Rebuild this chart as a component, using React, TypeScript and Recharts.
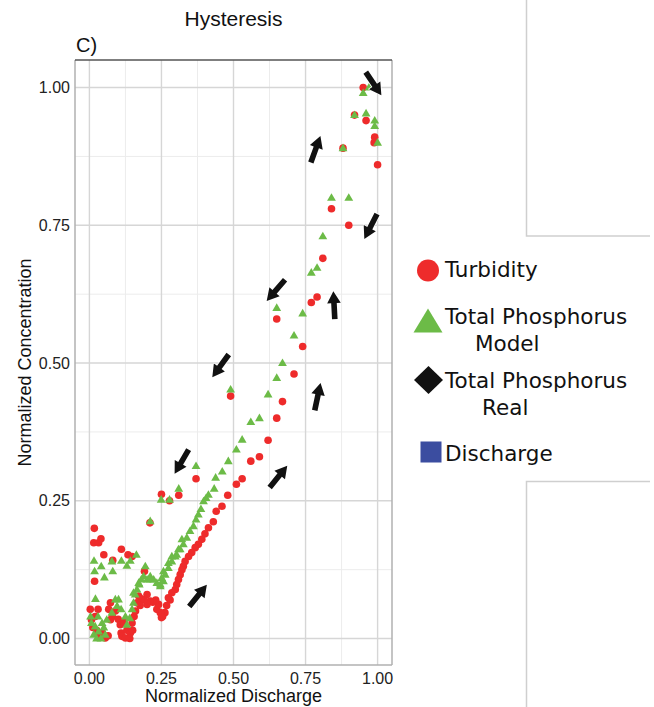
import React from 'react';
import { ScatterChart, Scatter, XAxis, YAxis, ReferenceLine, Label } from 'recharts';

// Normalized discharge (x) vs normalized concentration (y)
const turbidity: [number, number][] = [
  // rising / falling limbs, upper part
  [0.95, 1.0], [0.92, 0.95], [0.96, 0.94], [0.99, 0.91], [0.988, 0.9], [1.0, 0.86], [0.88, 0.89],
  [0.84, 0.78], [0.9, 0.75], [0.81, 0.69], [0.79, 0.62], [0.77, 0.61], [0.65, 0.58], [0.74, 0.53],
  [0.71, 0.48], [0.67, 0.43], [0.65, 0.4], [0.49, 0.44], [0.62, 0.36], [0.59, 0.33], [0.56, 0.322],
  [0.53, 0.29], [0.51, 0.28], [0.48, 0.26], [0.46, 0.24], [0.44, 0.231], [0.43, 0.212], [0.413, 0.201],
  [0.401, 0.19], [0.39, 0.18], [0.378, 0.171], [0.367, 0.165], [0.355, 0.156], [0.344, 0.149],
  [0.332, 0.14], [0.326, 0.131], [0.321, 0.125], [0.315, 0.116], [0.309, 0.107], [0.303, 0.098],
  [0.298, 0.089], [0.286, 0.083], [0.274, 0.074],
  [0.37, 0.29], [0.31, 0.26], [0.25, 0.262], [0.278, 0.25], [0.21, 0.21],
  // low band
  [0.268, 0.06], [0.262, 0.047], [0.254, 0.04], [0.246, 0.047], [0.25, 0.038], [0.234, 0.053],
  [0.24, 0.062], [0.23, 0.07], [0.22, 0.066], [0.211, 0.068], [0.2, 0.08], [0.2, 0.062], [0.19, 0.07],
  [0.18, 0.072], [0.176, 0.06], [0.171, 0.077], [0.165, 0.065], [0.28, 0.07],
  // base flow cluster
  [0.003, 0.053], [0.03, 0.053], [0.007, 0.034], [0.02, 0.04], [0.035, 0.004], [0.045, 0.01],
  [0.055, 0.001], [0.065, 0.005], [0.067, 0.053], [0.073, 0.034], [0.08, 0.04], [0.09, 0.05],
  [0.1, 0.035], [0.107, 0.025], [0.11, 0.01], [0.113, 0.004], [0.125, 0.001], [0.13, 0.015],
  [0.142, 0.01], [0.148, 0.028], [0.155, 0.04], [0.16, 0.05], [0.12, 0.03], [0.14, 0.0],
  [0.15, 0.015], [0.073, 0.065], [0.012, 0.02], [0.025, 0.015],
  // scattered low-discharge readings
  [0.017, 0.2], [0.015, 0.174], [0.032, 0.174], [0.04, 0.181], [0.05, 0.152], [0.081, 0.142],
  [0.111, 0.162], [0.134, 0.152], [0.148, 0.149], [0.018, 0.104], [0.191, 0.122],
];

const tpModel: [number, number][] = [
  [0.95, 0.99], [0.97, 1.0], [0.92, 0.95], [0.96, 0.953], [0.99, 0.94], [0.99, 0.93], [1.0, 0.9],
  [0.88, 0.89], [0.84, 0.8], [0.9, 0.8], [0.81, 0.73], [0.79, 0.673], [0.77, 0.664], [0.65, 0.6],
  [0.74, 0.59], [0.71, 0.55], [0.67, 0.5], [0.65, 0.473], [0.62, 0.443], [0.59, 0.4], [0.56, 0.393],
  [0.49, 0.452], [0.53, 0.361], [0.51, 0.343], [0.482, 0.322], [0.461, 0.303], [0.438, 0.292],
  [0.433, 0.272], [0.413, 0.261], [0.405, 0.255], [0.396, 0.249], [0.387, 0.235], [0.378, 0.225],
  [0.37, 0.216], [0.361, 0.204], [0.349, 0.195], [0.338, 0.183], [0.326, 0.171], [0.315, 0.162],
  [0.303, 0.152], [0.286, 0.149], [0.274, 0.137], [0.257, 0.122], [0.251, 0.11], [0.246, 0.095],
  [0.37, 0.313], [0.31, 0.272], [0.249, 0.252], [0.278, 0.252], [0.211, 0.213],
  // low band
  [0.321, 0.18], [0.309, 0.162], [0.298, 0.149], [0.286, 0.14], [0.274, 0.128], [0.263, 0.116],
  [0.257, 0.104], [0.246, 0.098], [0.234, 0.101], [0.223, 0.107], [0.211, 0.113], [0.211, 0.107],
  [0.2, 0.107], [0.194, 0.131], [0.188, 0.113], [0.18, 0.107], [0.173, 0.098], [0.171, 0.101],
  [0.165, 0.089], [0.159, 0.08], [0.153, 0.083], [0.153, 0.065], [0.148, 0.053], [0.14, 0.037],
  [0.13, 0.025], [0.125, 0.04], [0.11, 0.053], [0.101, 0.071], [0.096, 0.059], [0.09, 0.071],
  [0.078, 0.047], [0.06, 0.034], [0.044, 0.028],
  // base flow cluster
  [0.007, 0.028], [0.02, 0.022], [0.015, 0.007], [0.032, 0.013], [0.05, 0.02], [0.055, 0.007],
  [0.004, 0.04], [0.03, 0.04], [0.04, 0.0], [0.025, 0.0],
  // scattered low-discharge values
  [0.016, 0.141], [0.041, 0.131], [0.018, 0.122], [0.052, 0.111], [0.078, 0.14], [0.081, 0.122],
  [0.111, 0.141], [0.13, 0.132], [0.142, 0.141], [0.163, 0.152], [0.021, 0.072],
];

// Direction arrows along the loop: position and heading (degrees, screen orientation)
const arrows: [number, number, number][] = [
  [0.377, 0.078, -51],
  [0.656, 0.294, -51],
  [0.792, 0.439, -78],
  [0.849, 0.605, -93],
  [0.785, 0.888, -70],
  [0.986, 1.007, 56],
  [0.976, 0.748, 117],
  [0.647, 0.632, 131],
  [0.455, 0.495, 126],
  [0.32, 0.321, 120],
];

const majorTicks = [0, 0.25, 0.5, 0.75, 1];
const minorTicks = [0.125, 0.375, 0.625, 0.875];
const xDomain: [number, number] = [-0.05, 1.05];
const yDomain: [number, number] = [-0.048, 1.05];

const RED = '#EE2B2B';
const GREEN = '#6CBB47';
const BLUE = '#3B4DA0';
const AXIS_FONT = '"Liberation Sans", Arial, Helvetica, sans-serif';
const LEGEND_FONT = '"DejaVu Sans", "Noto Sans", sans-serif';

const toPoints = (arr: [number, number][]) => arr.map(([x, y]) => ({ x, y }));
const turbidityData = toPoints(turbidity);
const tpModelData = toPoints(tpModel);
const arrowData = arrows.map(([x, y, heading]) => ({ x, y, heading }));

const CircleMark = (p: any) => <circle cx={p.cx} cy={p.cy} r={3.8} fill={RED} />;

const TriangleMark = (p: any) => (
  <polygon
    points={`${p.cx},${p.cy - 4.6} ${p.cx - 4.4},${p.cy + 3} ${p.cx + 4.4},${p.cy + 3}`}
    fill={GREEN}
  />
);

const ArrowMark = (p: any) => {
  const { cx, cy } = p;
  const h = p.payload?.heading ?? 0;
  const pts = [
    [-14, -2.8], [2, -2.8], [2, -6.8], [14, 0], [2, 6.8], [2, 2.8], [-14, 2.8],
  ]
    .map(([a, b]) => `${cx + a},${cy + b}`)
    .join(' ');
  return (
    <polygon
      points={pts}
      fill="#111"
      stroke="#fff"
      strokeWidth={1.5}
      strokeLinejoin="round"
      paintOrder="stroke"
      transform={`rotate(${h} ${cx} ${cy})`}
    />
  );
};

export default function App() {
  return (
    <div style={{ position: 'fixed', left: 0, top: 0, width: 654, height: 707, background: '#fff' }}>
      <ScatterChart
        width={654}
        height={707}
        margin={{ top: 60, right: 262, bottom: 2, left: 20 }}
      >
        {minorTicks.map((v) => (
          <ReferenceLine key={`mx${v}`} x={v} stroke="#ececec" strokeWidth={1} />
        ))}
        {minorTicks.map((v) => (
          <ReferenceLine key={`my${v}`} y={v} stroke="#ececec" strokeWidth={1} />
        ))}
        {majorTicks.map((v) => (
          <ReferenceLine key={`Mx${v}`} x={v} stroke="#d6d6d6" strokeWidth={1.4} />
        ))}
        {majorTicks.map((v) => (
          <ReferenceLine key={`My${v}`} y={v} stroke="#d6d6d6" strokeWidth={1.4} />
        ))}
        <ReferenceLine x={xDomain[0]} stroke="#b0b0b0" strokeWidth={1.5} />
        <ReferenceLine x={xDomain[1]} stroke="#b0b0b0" strokeWidth={1.5} />
        <ReferenceLine y={yDomain[0]} stroke="#b0b0b0" strokeWidth={1.5} />
        <ReferenceLine y={yDomain[1]} stroke="#555" strokeWidth={1.5} />
        <XAxis
          type="number"
          dataKey="x"
          domain={xDomain}
          ticks={majorTicks}
          tickFormatter={(v: number) => v.toFixed(2)}
          allowDataOverflow
          height={40}
          axisLine={false}
          tickLine={false}
          tick={{ fill: '#222', fontSize: 16, fontFamily: AXIS_FONT }}
        >
          <Label
            content={(props: any) => {
              const vb = props.viewBox || {};
              return (
                <text
                  x={vb.x + vb.width / 2}
                  y={702}
                  textAnchor="middle"
                  fontSize={18}
                  fontFamily={AXIS_FONT}
                  fill="#111"
                >
                  Normalized Discharge
                </text>
              );
            }}
          />
        </XAxis>
        <YAxis
          type="number"
          dataKey="y"
          domain={yDomain}
          ticks={majorTicks}
          tickFormatter={(v: number) => v.toFixed(2)}
          allowDataOverflow
          width={55}
          axisLine={false}
          tickLine={false}
          tickSize={3}
          tickMargin={2}
          tick={{ fill: '#222', fontSize: 16, fontFamily: AXIS_FONT }}
        >
          <Label
            content={(props: any) => {
              const vb = props.viewBox || {};
              const cy = vb.y + vb.height / 2;
              return (
                <text
                  x={31}
                  y={cy}
                  textAnchor="middle"
                  fontSize={18}
                  fontFamily={AXIS_FONT}
                  fill="#111"
                  transform={`rotate(-90 31 ${cy})`}
                >
                  Normalized Concentration
                </text>
              );
            }}
          />
        </YAxis>
        <Scatter name="Turbidity" data={turbidityData} shape={CircleMark} isAnimationActive={false} />
        <Scatter name="Total Phosphorus Model" data={tpModelData} shape={TriangleMark} isAnimationActive={false} />
        <Scatter name="direction" data={arrowData} shape={ArrowMark} isAnimationActive={false} legendType="none" />
      </ScatterChart>

      <svg
        width={654}
        height={707}
        style={{ position: 'absolute', left: 0, top: 0, pointerEvents: 'none' }}
      >
        <text x={233.5} y={26} textAnchor="middle" fontSize={21} fontFamily={AXIS_FONT} fill="#111">
          Hysteresis
        </text>
        <text x={76} y={51.5} fontSize={20} fontFamily={AXIS_FONT} fill="#111">
          C)
        </text>

        <g fontFamily={LEGEND_FONT} fontSize={21.5} fill="#111">
          <circle cx={428} cy={270.5} r={11} fill={RED} />
          <text x={445} y={277}>Turbidity</text>
          <polygon points="428,308.5 413.5,332.5 442.5,332.5" fill={GREEN} />
          <text x={445} y={324}>Total Phosphorus</text>
          <text x={475} y={351}>Model</text>
          <polygon points="428.5,366 443,380 428.5,394 414,380" fill="#111" />
          <text x={445} y={388}>Total Phosphorus</text>
          <text x={482} y={415}>Real</text>
          <rect x={420.5} y={441.5} width={21} height={21} fill={BLUE} />
          <text x={445} y={461}>Discharge</text>
        </g>

        <g stroke="#cfcfcf" strokeWidth={1.5} fill="none">
          <polyline points="526.5,0 526.5,236 650,236" />
          <polyline points="650,481.5 526.5,481.5 526.5,707" />
        </g>
      </svg>
    </div>
  );
}
